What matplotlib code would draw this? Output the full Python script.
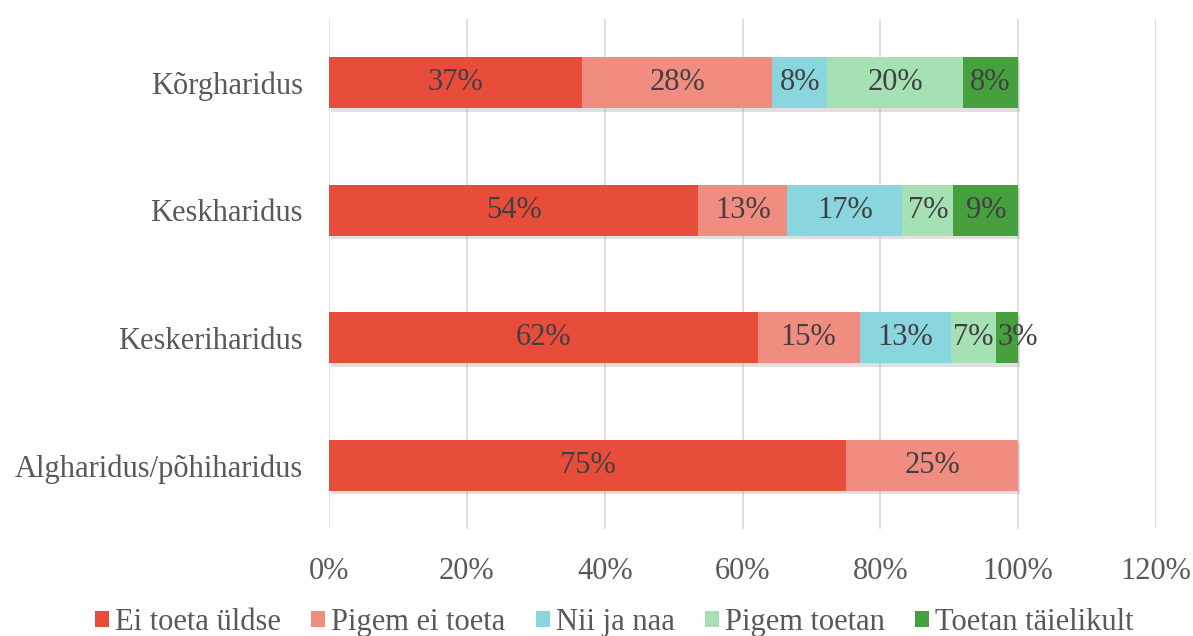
import matplotlib
matplotlib.use("Agg")
import matplotlib.pyplot as plt
import matplotlib.patheffects as pe
from matplotlib.patches import Patch
import numpy as np

categories = ["Kõrgharidus", "Keskharidus", "Keskeriharidus", "Algharidus/põhiharidus"]
series_names = ["Ei toeta üldse", "Pigem ei toeta", "Nii ja naa", "Pigem toetan", "Toetan täielikult"]
ei_toeta = [36.7, 53.6, 62.2, 75.0]
pigem_ei = [27.6, 12.9, 14.8, 25.0]
nii_ja_naa = [8.0, 16.7, 13.2, 0.0]
pigem_toetan = [19.7, 7.4, 6.6, 0.0]
toetan = [8.0, 9.4, 3.2, 0.0]
colors = ["#E84C3B", "#F18C80", "#8AD6DE", "#A6E0B5", "#45A03D"]
xticks = [0, 20, 40, 60, 80, 100, 120]

plt.rcParams['font.family'] = ['Liberation Serif', 'DejaVu Serif']

fig = plt.figure(figsize=(11.93, 6.36), dpi=100)
ax = fig.add_axes([0.2758, 0.168, 0.6932, 0.802])

data = [ei_toeta, pigem_ei, nii_ja_naa, pigem_toetan, toetan]
y = np.arange(len(categories))[::-1]
left = np.zeros(len(categories))
for vals, name, col in zip(data, series_names, colors):
    vals = np.array(vals)
    bars = ax.barh(y, vals, left=left, height=0.4, color=col, zorder=3)
    for b in bars:
        b.set_path_effects([pe.SimplePatchShadow(offset=(1.5, -2.5), shadow_rgbFace='#999999', alpha=0.3), pe.Normal()])
    for yi, l, v in zip(y, left, vals):
        if v > 0:
            # very narrow segments: Excel pushes the label to the segment's end
            xpos = l + v if v < 5 else l + v / 2
            ax.text(xpos, yi, f"{v:.0f}%", ha='center', va='center', fontsize=22, color='#404040', zorder=5)
    left = left + vals

ax.set_xlim(0, 120)
ax.set_ylim(-0.5, 3.5)
ax.set_xticks(xticks)
ax.set_xticklabels([f"{t}%" for t in xticks])
ax.set_yticks(y)
ax.set_yticklabels(categories)
ax.tick_params(axis='both', length=0, labelsize=22, colors='#595959')
ax.tick_params(axis='x', pad=20)
ax.tick_params(axis='y', pad=19)
ax.grid(axis='x', color='#D9D9D9', linewidth=1.2, zorder=0)
for s in ax.spines.values():
    s.set_visible(False)

handles = [Patch(facecolor=c, edgecolor='none') for c in colors]
leg = fig.legend(handles, series_names, loc='lower center', bbox_to_anchor=(0.515, -0.045), ncol=5, frameon=False,
                 fontsize=22, handlelength=0.45, handleheight=0.45, handletextpad=0.2, columnspacing=1.0)
for t in leg.get_texts():
    t.set_color('#595959')

fig.savefig("out.png", dpi=100)
